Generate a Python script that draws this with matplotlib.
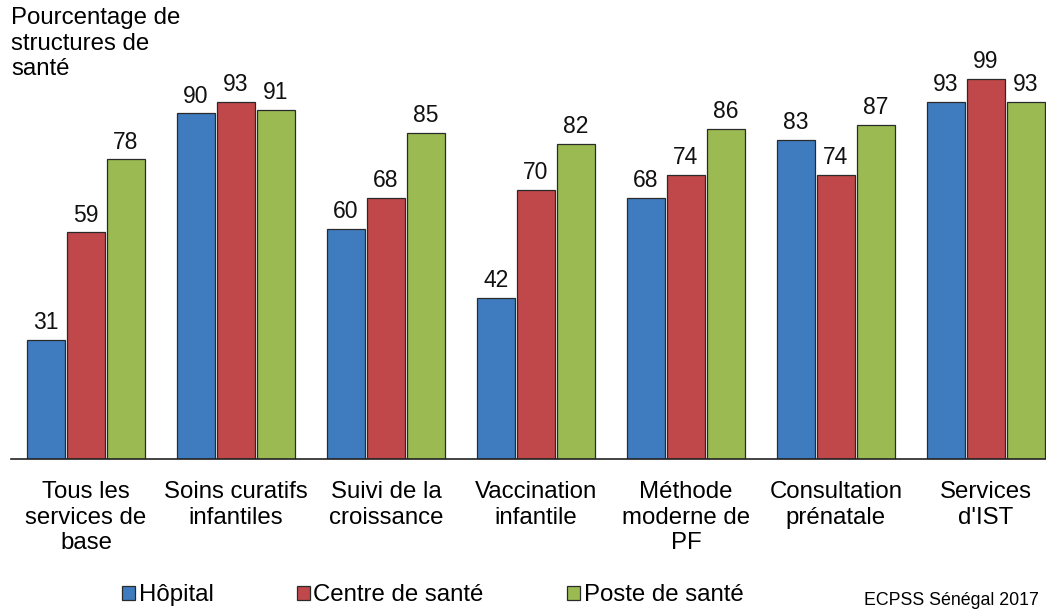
import matplotlib
matplotlib.use("Agg")
import matplotlib.pyplot as plt
import numpy as np

categories = ["Tous les\nservices de\nbase", "Soins curatifs\ninfantiles", "Suivi de la\ncroissance",
              "Vaccination\ninfantile", "Méthode\nmoderne de\nPF", "Consultation\nprénatale", "Services\nd'IST"]
series_names = ["Hôpital", "Centre de santé", "Poste de santé"]
hopital = [31, 90, 60, 42, 68, 83, 93]
centre = [59, 93, 68, 70, 74, 74, 99]
poste = [78, 91, 85, 82, 86, 87, 93]
colors = ["#3F7CBF", "#C0474A", "#9BBB52"]

plt.rcParams['font.family'] = ['Liberation Sans', 'DejaVu Sans']

fig = plt.figure(figsize=(10.46, 6.11), dpi=100)
ax = fig.add_axes([0.0105, 0.2488, 0.9895, 0.6285])

x = np.arange(len(categories))
w = 0.253
step = 0.267
bars = []
for i, (vals, name, col) in enumerate(zip([hopital, centre, poste], series_names, colors)):
    b = ax.bar(x + (i - 1) * step, vals, width=w, color=col, edgecolor="#2a2a2a",
               linewidth=0.9, label=name, zorder=2)
    bars.append(b)
    for xi, v in zip(x + (i - 1) * step, vals):
        ax.text(xi, v + 1.5, f"{v}", ha="center", va="bottom", fontsize=16.5, color="#111111")

ax.set_xlim(-0.5, 6.4)
ax.set_ylim(0, 100)
ax.set_xticks(x)
ax.set_xticklabels(categories, fontsize=17.3, linespacing=1.2, va="top")
ax.tick_params(axis="x", length=0, pad=16)
ax.set_yticks([])
for s in ["top", "right", "left"]:
    ax.spines[s].set_visible(False)
ax.spines["bottom"].set_color("#222222")
ax.spines["bottom"].set_linewidth(1.2)

fig.text(0.0105, 0.988, "Pourcentage de\nstructures de\nsanté", ha="left", va="top",
         fontsize=17.3, linespacing=1.2)

leg = fig.legend(handles=bars, labels=series_names, loc="lower left",
                 bbox_to_anchor=(0.096, -0.028), ncol=3, frameon=False, fontsize=17.3,
                 handlelength=0.55, handleheight=0.55, handletextpad=0.15, columnspacing=3.45)

fig.text(0.826, 0.004, "ECPSS Sénégal 2017", ha="left", va="bottom", fontsize=12.8)

fig.savefig("out.png", dpi=100)
